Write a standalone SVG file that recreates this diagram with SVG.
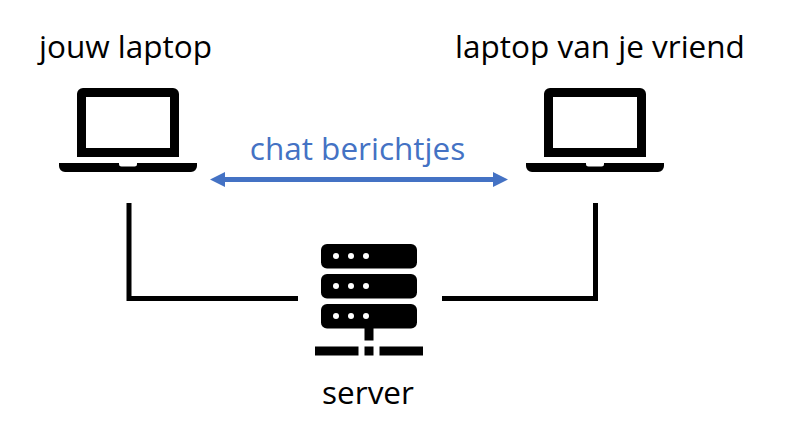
<svg xmlns="http://www.w3.org/2000/svg" width="786" height="443" viewBox="0 0 786 443">
<style>
text{font-family:"Open Sans","Noto Sans","Liberation Sans",sans-serif;font-size:31.500px;fill:#000}
.conn{fill:none;stroke:#000;stroke-width:5}
</style>
<defs>
<g id="laptop">
<path fill-rule="evenodd" d="M77 157V94a6 6 0 0 1 6-6h90a6 6 0 0 1 6 6v63ZM86 97v51h84V97Z"/>
<path d="M59 163h60v1a2.500 2.500 0 0 0 2.500 2.500h13a2.500 2.500 0 0 0 2.500-2.500v-1h60v3a6 6 0 0 1-6 6H65a6 6 0 0 1-6-6Z"/>
</g>
<g id="unit">
<rect x="321" y="0" width="96" height="24.500" rx="6"/>
<circle cx="336" cy="12" r="3" fill="#fff"/><circle cx="351" cy="12" r="3" fill="#fff"/><circle cx="366" cy="12" r="3" fill="#fff"/>
</g>
</defs>
<rect width="786" height="443" fill="#fff"/>
<g id="connectors">
<path class="conn" d="M129 203V298.500H298"/>
<path class="conn" d="M595.500 203V298.500H442"/>
<path d="M222 179.500H496" fill="none" stroke="#4472c4" stroke-width="5"/>
<path d="M210 179.500l15-7.500v15ZM508 179.500l-15-7.500v15Z" fill="#4472c4"/>
</g>
<g id="jouw-laptop"><use href="#laptop"/><text x="125.500" y="58" text-anchor="middle">jouw laptop</text></g>
<g id="vriend-laptop"><use href="#laptop" x="467"/><text x="600" y="58" text-anchor="middle">laptop van je vriend</text></g>
<g id="server">
<use href="#unit" y="244"/><use href="#unit" y="274"/><use href="#unit" y="304"/>
<rect x="364.500" y="328" width="9" height="12.500"/>
<rect x="315" y="346.500" width="43.500" height="9"/>
<rect x="364.500" y="346.500" width="9" height="9"/>
<rect x="379.500" y="346.500" width="43.500" height="9"/>
<text x="368" y="404" text-anchor="middle">server</text>
</g>
<text id="chat" x="357.500" y="160" text-anchor="middle" style="fill:#4472c4">chat berichtjes</text>
</svg>
